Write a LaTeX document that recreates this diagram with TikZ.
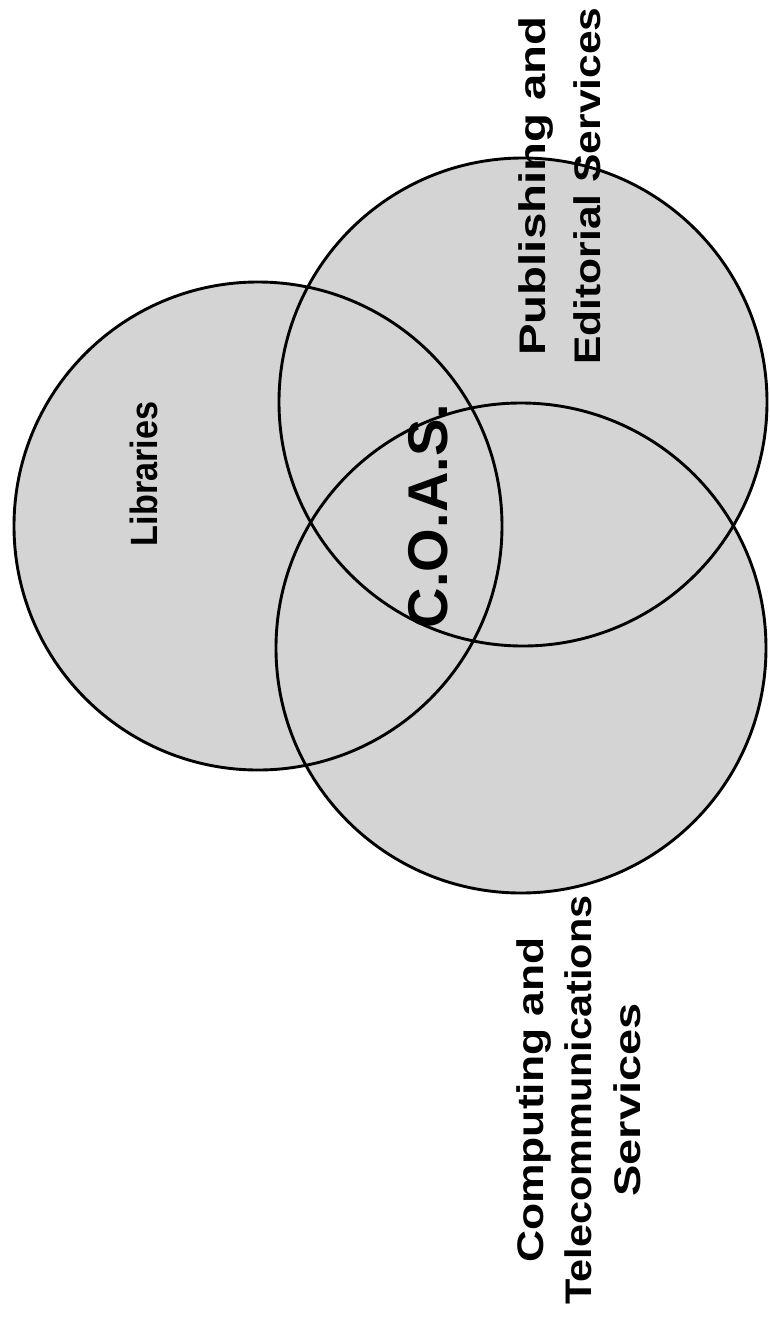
\documentclass[tikz,border=0pt]{standalone}
\usepackage{fontspec}
\setmainfont{Liberation Sans}
\usepackage{graphicx}
\definecolor{fillgray}{gray}{0.83}
\begin{document}
\begin{tikzpicture}[x=1pt,y=-1pt,
  region/.style={circle,fill=fillgray,minimum size=488pt,inner sep=0pt},
  outline/.style={line width=2.9pt,draw=black},
  lbl/.style={rotate=90,inner sep=0pt,text=black}]
\useasboundingbox (0,0) rectangle (769,1320);
\node[region] (lib) at (258,526) {};
\node[region] (pub) at (523,402) {};
\node[region] (comp) at (521,648) {};
\draw[outline] (lib) circle[radius=244pt];
\draw[outline] (pub) circle[radius=244pt];
\draw[outline] (comp) circle[radius=245pt];
\node[lbl,anchor=base,font=\bfseries\fontsize{38}{44}\selectfont] (tlib) at (157,474) {\scalebox{0.9}[1]{Libraries}};
\node[lbl,anchor=base,font=\bfseries\fontsize{56}{64}\selectfont] (tcoas) at (447,516) {C.O.A.S.};
\node[lbl,font=\bfseries\fontsize{37}{55}\selectfont] (tpub) at (562,186) {\begin{tabular}{@{}c@{}}\scalebox{1.28}[1]{Publishing and}\\\scalebox{1.15}[1]{Editorial Services}\end{tabular}};
\node[lbl,font=\bfseries\fontsize{37}{48.5}\selectfont] (tcomp) at (581.8,1100) {\begin{tabular}{@{}c@{}}\scalebox{1.2}[1]{Computing and}\\\scalebox{1.12}[1]{Telecommunications}\\\scalebox{1.27}[1]{Services}\end{tabular}};
\end{tikzpicture}
\end{document}
